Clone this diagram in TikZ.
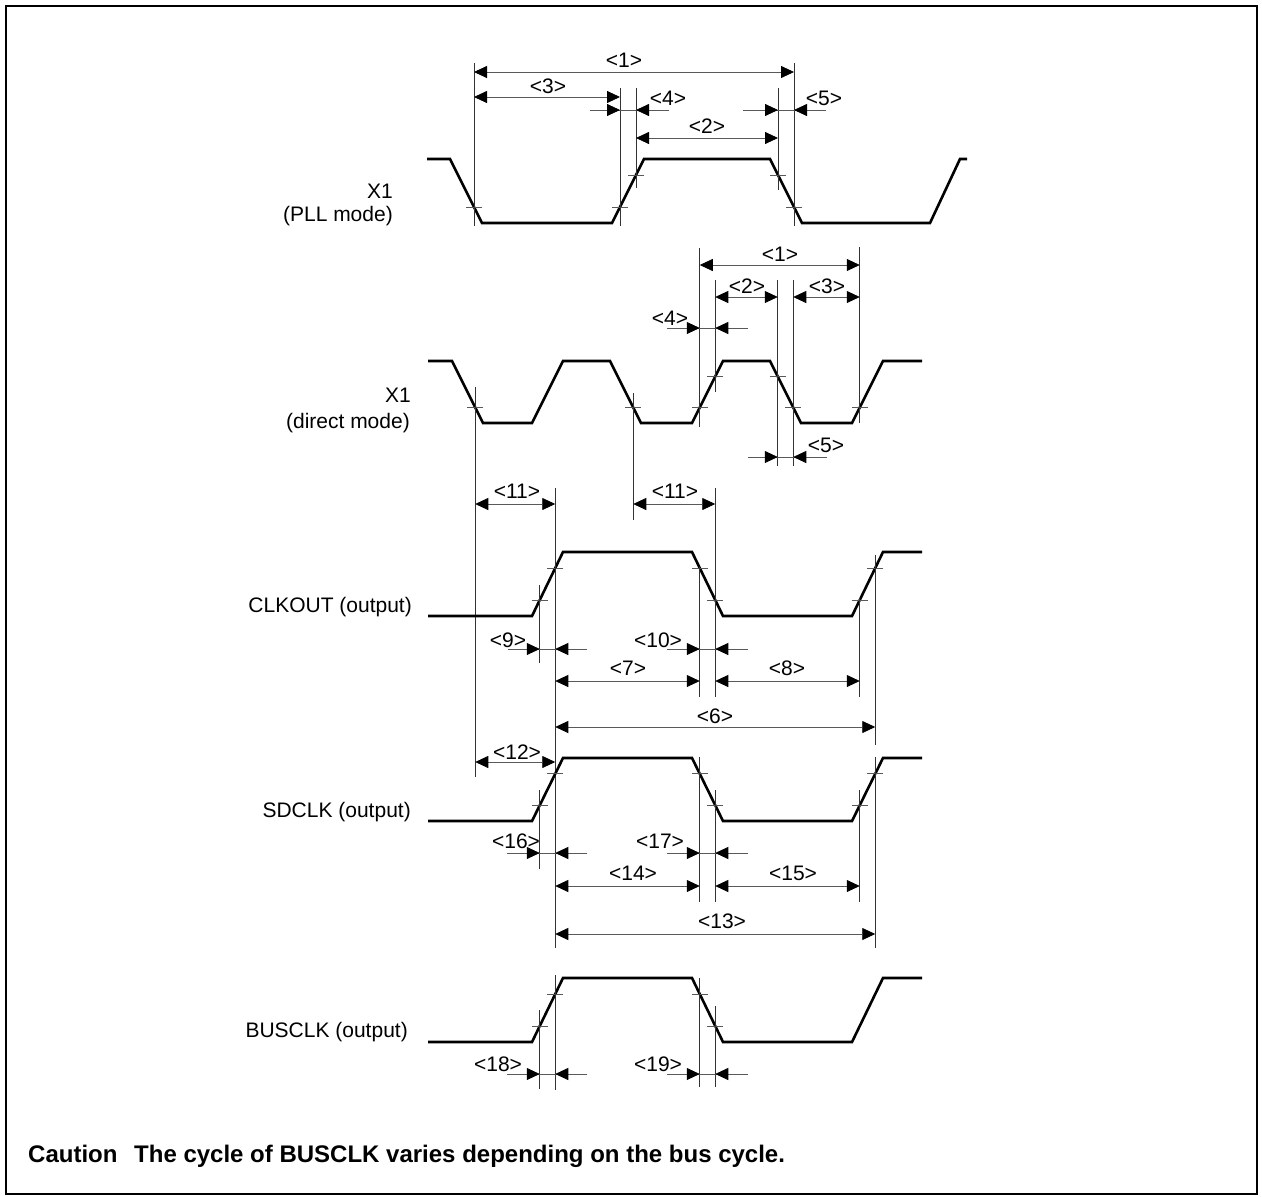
\documentclass[tikz,border=0pt]{standalone}
\usepackage{fontspec}
\setmainfont{Liberation Sans}
\usetikzlibrary{arrows.meta}
\tikzset{
  wave/.style={line width=2.6pt, line join=miter, black},
  dimv/.style={line width=0.8pt, black!80},
  dima/.style={line width=0.8pt, black!65},
  tickm/.style={line width=0.8pt, black!65},
  lab/.style={font=\fontsize{21}{24}\selectfont, inner sep=0pt},
  sig/.style={font=\fontsize{21}{24}\selectfont, inner sep=0pt, anchor=base east},
  >={Triangle[length=13pt,width=12pt,color=black]},
}
\newcommand\dimdbl[3]{\draw[dima,<->] (#2,#1) -- (#3,#1);}
\newcommand\diminw[5]{%
  \draw[dima] (#2,#1) -- (#5,#1);
  \draw[dima,->] (#2,#1) -- (#3,#1);
  \draw[dima,->] (#5,#1) -- (#4,#1);}
\newcommand\tkm[2]{\draw[tickm] ({#1-8},#2) -- ({#1+8},#2);}
\newcommand\vln[3]{\draw[dimv] (#1,#2) -- (#1,#3);}
\begin{document}
\begin{tikzpicture}[x=1pt,y=-1pt]
\useasboundingbox (0,0) rectangle (1262,1197);
\draw[line width=2.2pt] (6,6) rectangle (1257,1194);

% ---------------- X1 PLL mode
\node[sig] (pllA) at (393,198) {X1};
\node[sig] (pllB) at (393,221) {(PLL mode)};
\draw[wave] (427,159)--(450,159)--(482,223)--(612,223)--(644,159)--(770,159)--(802,223)--(930,223)--(960,159)--(967,159);
\tkm{474}{207} \tkm{620}{207} \tkm{636}{175} \tkm{778}{175} \tkm{794}{207}
\vln{474}{63}{226} \vln{620}{88}{226} \vln{636}{88}{188} \vln{778}{88}{190} \vln{794}{63}{226}
\dimdbl{72}{474}{794}
\dimdbl{97}{474}{620}
\diminw{110}{590}{620}{636}{669}
\dimdbl{138}{636}{778}
\diminw{110}{743}{778}{794}{826}
\node[lab] (p1) at (624,60) {<1>};
\node[lab] (p3) at (548,86) {<3>};
\node[lab] (p4) at (668,98) {<4>};
\node[lab] (p2) at (707,126) {<2>};
\node[lab] (p5) at (824,98) {<5>};

% ---------------- X1 direct mode
\node[sig] (dirA) at (411,402) {X1};
\node[sig] (dirB) at (410,428) {(direct mode)};
\draw[wave] (428,361)--(452,361)--(483,423)--(532,423)--(563,361)--(610,361)--(641,423)--(692,423)--(723,361)--(770,361)--(801,423)--(852,423)--(883,361)--(922,361);
\tkm{475.25}{407.5} \tkm{633.25}{407.5} \tkm{699.75}{407.5} \tkm{793.25}{407.5} \tkm{859.75}{407.5}
\tkm{715.25}{376.5} \tkm{777.75}{376.5}
\vln{475.25}{387}{777} \vln{633.25}{393}{520} \vln{699.75}{248}{427} \vln{715.25}{280}{392}
\vln{777.75}{280}{466} \vln{793.25}{280}{466} \vln{859.75}{247}{423}
\dimdbl{265}{699.75}{859.75}
\dimdbl{297}{715.25}{777.75}
\dimdbl{297}{793.25}{859.75}
\diminw{328}{667}{699.75}{715.25}{748}
\diminw{457}{748}{777.75}{793.25}{827}
\node[lab] (d1) at (780,254) {<1>};
\node[lab] (d2) at (747,286) {<2>};
\node[lab] (d3) at (827,286) {<3>};
\node[lab] (d4) at (670,318) {<4>};
\node[lab] (d5) at (826,445) {<5>};

% ---------------- CLKOUT
\node[sig] (clk) at (412,612) {CLKOUT (output)};
\draw[wave] (428,616)--(532,616)--(563,552)--(692,552)--(723,616)--(852,616)--(883,552)--(922,552);
\tkm{539.75}{600} \tkm{555.25}{568} \tkm{699.75}{568} \tkm{715.25}{600} \tkm{859.75}{600} \tkm{875.25}{568}
\vln{539.75}{585}{663} \vln{555.25}{488}{948} \vln{699.75}{567}{697} \vln{715.25}{488}{697}
\vln{859.75}{598}{697} \vln{875.25}{555}{745}
\dimdbl{504}{475.25}{555.25}
\dimdbl{504}{633.25}{715.25}
\diminw{649}{508}{539.75}{555.25}{587}
\diminw{649}{667}{699.75}{715.25}{748}
\dimdbl{681}{555.25}{699.75}
\dimdbl{681}{715.25}{859.75}
\dimdbl{727}{555.25}{875.25}
\node[lab] (c11a) at (517,491) {<11>};
\node[lab] (c11b) at (675,491) {<11>};
\node[lab] (c9) at (508,640) {<9>};
\node[lab] (c10) at (658,640) {<10>};
\node[lab] (c7) at (628,668) {<7>};
\node[lab] (c8) at (787,668) {<8>};
\node[lab] (c6) at (715,716) {<6>};

% ---------------- SDCLK
\node[sig] (sdc) at (411,817) {SDCLK (output)};
\draw[wave] (428,821)--(532,821)--(563,758)--(692,758)--(723,821)--(852,821)--(883,758)--(922,758);
\tkm{539.75}{805.25} \tkm{555.25}{773.75} \tkm{699.75}{773.75} \tkm{715.25}{805.25} \tkm{859.75}{805.25} \tkm{875.25}{773.75}
\vln{539.75}{790}{869} \vln{699.75}{757}{902} \vln{715.25}{790}{902} \vln{859.75}{790}{902} \vln{875.25}{757}{948}
\dimdbl{762}{475.25}{555.25}
\diminw{853}{507}{539.75}{555.25}{587}
\diminw{853}{667}{699.75}{715.25}{748}
\dimdbl{886}{555.25}{699.75}
\dimdbl{886}{715.25}{859.75}
\dimdbl{934}{555.25}{875.25}
\node[lab] (s12) at (517,752) {<12>};
\node[lab] (s16) at (516,841) {<16>};
\node[lab] (s17) at (660,841) {<17>};
\node[lab] (s14) at (633,873) {<14>};
\node[lab] (s15) at (793,873) {<15>};
\node[lab] (s13) at (722,921) {<13>};

% ---------------- BUSCLK
\node[sig] (bus) at (408,1037) {BUSCLK (output)};
\draw[wave] (428,1042)--(532,1042)--(563,978)--(692,978)--(723,1042)--(852,1042)--(883,978)--(922,978);
\tkm{539.75}{1026} \tkm{555.25}{994} \tkm{699.75}{994} \tkm{715.25}{1026}
\vln{539.75}{1010}{1089} \vln{555.25}{975}{1090} \vln{699.75}{978}{1087} \vln{715.25}{1006}{1087}
\diminw{1074}{507}{539.75}{555.25}{587}
\diminw{1074}{667}{699.75}{715.25}{748}
\node[lab] (b18) at (498,1064) {<18>};
\node[lab] (b19) at (658,1064) {<19>};

% ---------------- Caution
\node[anchor=base west, inner sep=0pt, font=\bfseries\fontsize{24}{28}\selectfont] (caut) at (28,1162)
  {Caution\hspace{10pt} The cycle of BUSCLK varies depending on the bus cycle.};
\end{tikzpicture}
\end{document}
